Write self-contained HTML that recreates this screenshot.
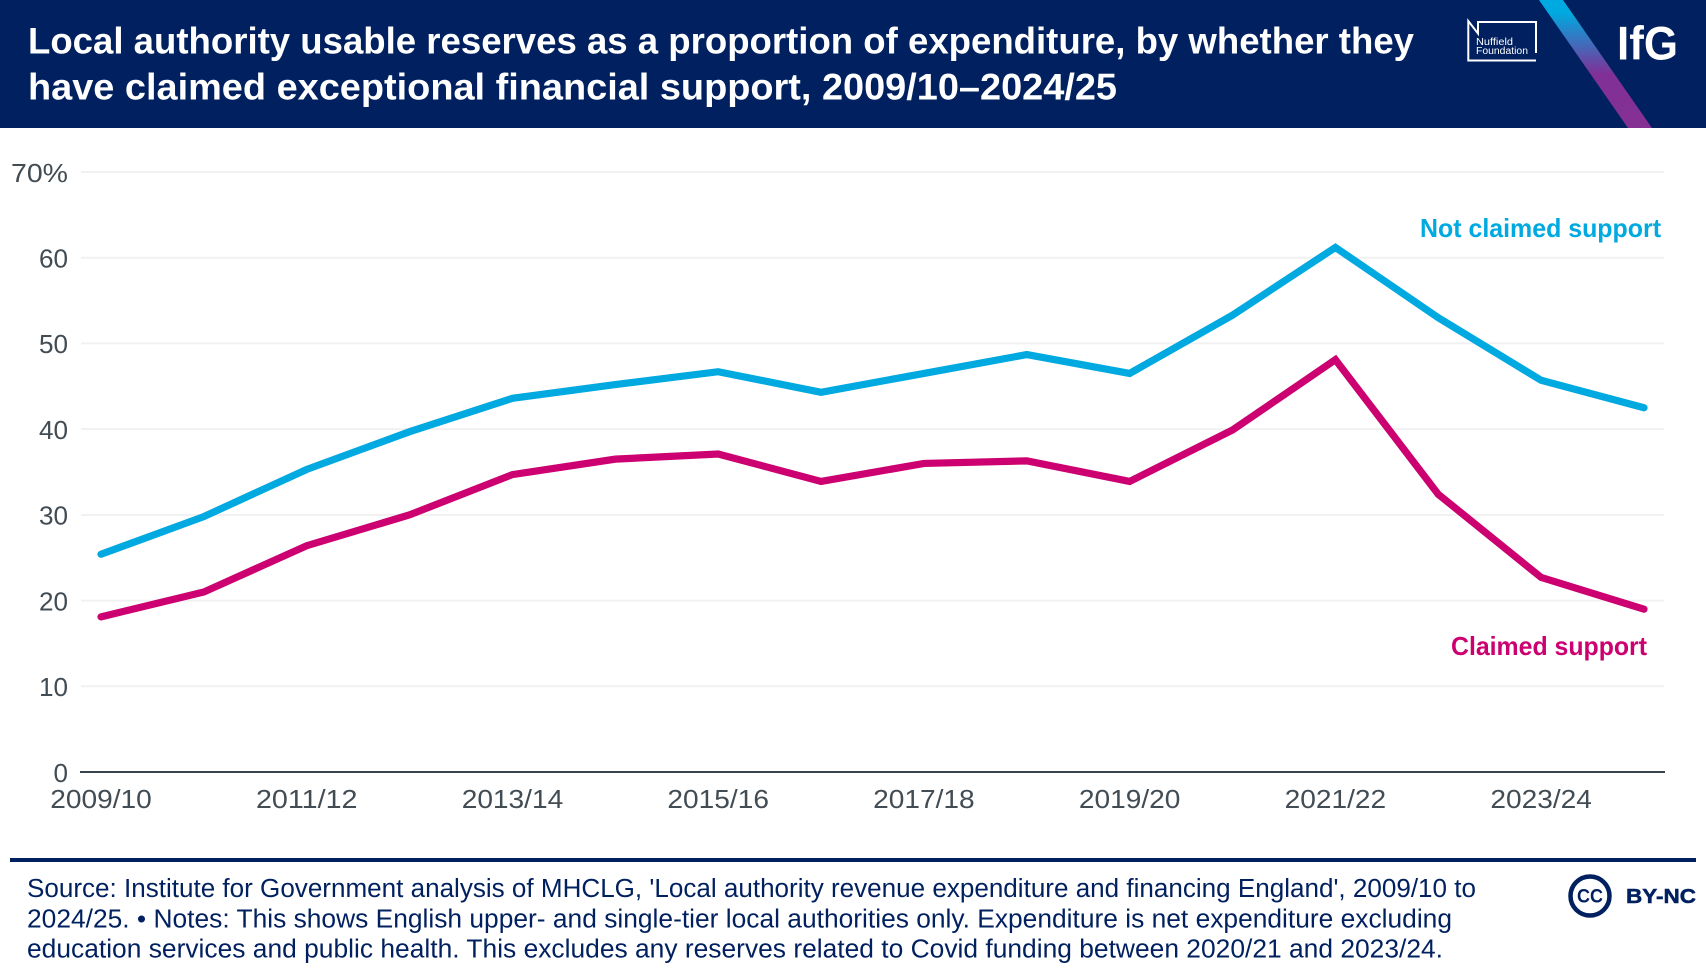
<!DOCTYPE html>
<html lang="en">
<head>
<meta charset="utf-8">
<title>Local authority usable reserves</title>
<style>
  html,body{margin:0;padding:0;background:#fff;width:1706px;height:978px;overflow:hidden}
  svg{display:block}
  text{font-family:"Liberation Sans",Arial,sans-serif}
</style>
</head>
<body>
<svg id="chart" width="1706" height="978" viewBox="0 0 1706 978" xmlns="http://www.w3.org/2000/svg">
  <defs>
    <linearGradient id="stripe-gradient" x1="0" y1="0" x2="0" y2="128" gradientUnits="userSpaceOnUse">
      <stop offset="0.1" stop-color="#00a9e0"/>
      <stop offset="0.58" stop-color="#803096"/>
      <stop offset="1" stop-color="#853093"/>
    </linearGradient>
  </defs>
  <rect x="0" y="0" width="1706" height="128" fill="#00205f"/>
  <g fill="#fff" font-weight="700" font-size="37">
    <text x="28" y="53.5" textLength="1386" lengthAdjust="spacingAndGlyphs">Local authority usable reserves as a proportion of expenditure, by whether they</text>
    <text x="28" y="99.5" textLength="1089" lengthAdjust="spacingAndGlyphs">have claimed exceptional financial support, 2009/10–2024/25</text>
  </g>
  <g>
    <path d="M1478 22 H1536 V53 M1536 60.5 H1468.3 V21 L1478 33.5 V21" fill="none" stroke="#fff" stroke-width="2"/>
    <text x="1476" y="45" fill="#fff" font-size="10" textLength="37" lengthAdjust="spacingAndGlyphs">Nuffield</text>
    <text x="1476" y="54" fill="#fff" font-size="10" textLength="52" lengthAdjust="spacingAndGlyphs">Foundation</text>
  </g>
  <polygon points="1539,0 1563,0 1652,128 1628,128" fill="url(#stripe-gradient)"/>
  <text x="1617" y="59.5" fill="#fff" font-size="47" font-weight="700" textLength="61" lengthAdjust="spacingAndGlyphs">IfG</text>

  <g id="grid"></g>
  <g id="y-axis"></g>
  <g id="x-axis"></g>
  <g id="series"></g>

  <text x="1420" y="237" fill="#00a9e0" font-size="26" font-weight="700" textLength="241" lengthAdjust="spacingAndGlyphs">Not claimed support</text>
  <text x="1451" y="655" fill="#cc0070" font-size="26" font-weight="700" textLength="196" lengthAdjust="spacingAndGlyphs">Claimed support</text>

  <rect x="10" y="858" width="1686" height="4" fill="#00205f"/>
  <g fill="#00205f" font-size="25.5">
    <text x="27" y="897" textLength="1449" lengthAdjust="spacingAndGlyphs">Source: Institute for Government analysis of MHCLG, 'Local authority revenue expenditure and financing England', 2009/10 to</text>
    <text x="27" y="927.5" textLength="1425" lengthAdjust="spacingAndGlyphs">2024/25. • Notes: This shows English upper- and single-tier local authorities only. Expenditure is net expenditure excluding</text>
    <text x="27" y="957.5" textLength="1416" lengthAdjust="spacingAndGlyphs">education services and public health. This excludes any reserves related to Covid funding between 2020/21 and 2023/24.</text>
  </g>
  <g fill="#00205f">
    <circle cx="1590" cy="896" r="19.5" fill="none" stroke="#00205f" stroke-width="4.5"/>
    <text x="1577" y="902.5" font-size="19" font-weight="700" textLength="26" lengthAdjust="spacingAndGlyphs">CC</text>
    <text x="1626" y="903" font-size="20" font-weight="700" textLength="70" lengthAdjust="spacingAndGlyphs" stroke="#00205f" stroke-width="0.5">BY-NC</text>
  </g>
</svg>
<script>
const categories = ['2009/10','2010/11','2011/12','2012/13','2013/14','2014/15','2015/16','2016/17','2017/18','2018/19','2019/20','2020/21','2021/22','2022/23','2023/24','2024/25'];
const notClaimed = [25.4,29.8,35.3,39.7,43.6,45.2,46.7,44.3,46.5,48.7,46.5,53.3,61.2,53.0,45.7,42.5];
const claimed = [18.1,21.0,26.4,30.0,34.7,36.5,37.1,33.9,36.0,36.3,33.9,39.9,48.1,32.4,22.7,19.0];
const yTicks = [0,10,20,30,40,50,60,70];

const NS = 'http://www.w3.org/2000/svg';
function xScale(i){ return 101 + i * (1543 / (categories.length - 1)); }
function yScale(v){ return 772 - v * (600 / 70); }
function make(tag, attrs, parent){
  const el = document.createElementNS(NS, tag);
  for (const k in attrs) el.setAttribute(k, attrs[k]);
  parent.appendChild(el);
  return el;
}
const gridG = document.getElementById('grid');
const yG = document.getElementById('y-axis');
const xG = document.getElementById('x-axis');
const seriesG = document.getElementById('series');

yTicks.forEach(function(v){
  if (v !== 0) {
    const line = make('line', {x1:81, x2:1664, y1:yScale(v), y2:yScale(v), stroke:'#f1f1f1', 'stroke-width':2}, gridG);
    
    
  }
  const label = make('text', {x:68, y:yScale(v) + 9.8, 'text-anchor':'end', 'font-size':26, fill:'#424c54', lengthAdjust:'spacingAndGlyphs'}, yG);
  const str = v === 70 ? v + '%' : String(v);
  label.textContent = str;
  label.setAttribute('textLength', v === 70 ? 57 : (v === 0 ? 14.5 : 29));
  
  
});

const axisLine = make('line', {x1:80, x2:1665, y1:yScale(0), y2:yScale(0), stroke:'#37424a', 'stroke-width':2}, xG);



categories.forEach(function(c, i){
  if (i % 2 !== 0) return;
  const label = make('text', {x:xScale(i), y:808, 'text-anchor':'middle', 'font-size':26, fill:'#424c54', textLength:101.5, lengthAdjust:'spacingAndGlyphs'}, xG);
  label.textContent = c;
  
  
});

function drawLine(values, colour, name){
  const pts = values.map(function(v, i){ return xScale(i).toFixed(2) + ',' + yScale(v).toFixed(2); }).join(' ');
  const line = make('polyline', {points:pts, fill:'none', stroke:colour, 'stroke-width':7.2, 'stroke-linecap':'round', 'stroke-linejoin':'miter'}, seriesG);
  
  
}
drawLine(notClaimed, '#00a9e0', 'line-not-claimed-support');
drawLine(claimed, '#cc0070', 'line-claimed-support');
</script>
</body>
</html>
